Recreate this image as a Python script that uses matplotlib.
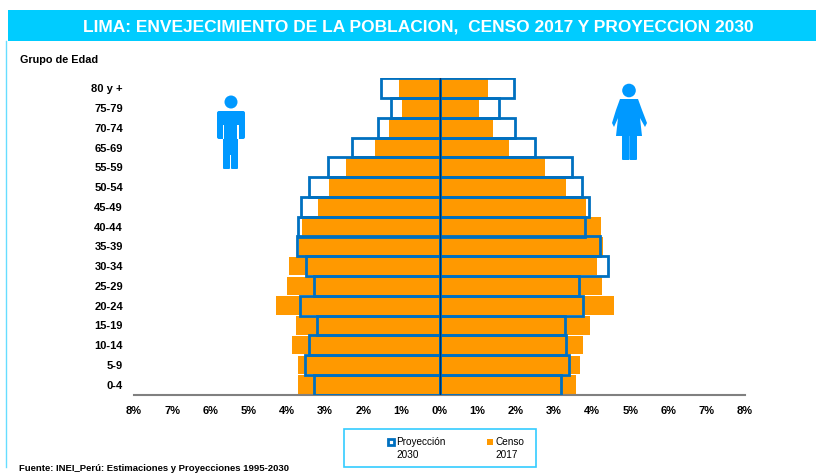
import matplotlib
matplotlib.use('Agg')
import matplotlib.pyplot as plt
from matplotlib.patches import Rectangle, Circle, Polygon, FancyBboxPatch

plt.rcParams['font.family'] = ['Liberation Sans', 'DejaVu Sans']

# data, top row first (the source has no 60-64 row)
grupos = ['80 y +', '75-79', '70-74', '65-69', '55-59', '50-54', '45-49', '40-44',
          '35-39', '30-34', '25-29', '20-24', '15-19', '10-14', '5-9', '0-4']
censo_h = [1.06, 0.97, 1.33, 1.68, 2.46, 2.90, 3.18, 3.59,
           3.68, 3.94, 3.99, 4.27, 3.75, 3.85, 3.70, 3.71]
censo_m = [1.27, 1.03, 1.40, 1.83, 2.76, 3.32, 3.83, 4.24,
           4.27, 4.12, 4.25, 4.58, 3.94, 3.76, 3.67, 3.57]
proy_h = [1.52, 1.27, 1.62, 2.28, 2.92, 3.43, 3.63, 3.70,
          3.72, 3.49, 3.29, 3.66, 3.21, 3.43, 3.52, 3.29]
proy_m = [1.94, 1.56, 1.97, 2.51, 3.46, 3.72, 3.91, 3.80,
          4.21, 4.42, 3.64, 3.77, 3.29, 3.32, 3.39, 3.18]
ticks_pct = [-8, -7, -6, -5, -4, -3, -2, -1, 0, 1, 2, 3, 4, 5, 6, 7, 8]

W, H = 816, 475
NARANJA = '#FF9900'
AZUL = '#0070C0'
CIAN = '#00CCFF'
ICONO = '#0099FF'

fig = plt.figure(figsize=(W / 100, H / 100), dpi=100)

# overlay in pixel coords for the header, boxes and icons
bg = fig.add_axes([0, 0, 1, 1])
bg.set_xlim(0, W)
bg.set_ylim(H, 0)
bg.axis('off')

bg.add_patch(Rectangle((8, 10), W - 8, 31, color=CIAN, lw=0))
bg.plot([6, 6], [41, 467], color='#66DDFF', lw=1)
bg.text(418, 27, 'LIMA: ENVEJECIMIENTO DE LA POBLACION,  CENSO 2017 Y PROYECCION 2030',
        color='white', fontsize=12.5, fontweight='bold', ha='center', va='center')
bg.text(20, 60, 'Grupo de Edad', fontsize=7.8, fontweight='bold', ha='left', va='center')
bg.text(19, 468.5, 'Fuente: INEI_Perú: Estimaciones y Proyecciones 1995-2030',
        fontsize=6.8, fontweight='bold', ha='left', va='center')

# man icon
bg.add_patch(Circle((231, 102), 6.5, color=ICONO, lw=0))
bg.add_patch(FancyBboxPatch((219, 113), 24, 24, boxstyle='round,pad=2', color=ICONO, lw=0))
bg.add_patch(Rectangle((223, 125), 15, 30, color=ICONO, lw=0))
bg.add_patch(FancyBboxPatch((224, 150), 5, 18, boxstyle='round,pad=1', color=ICONO, lw=0))
bg.add_patch(FancyBboxPatch((232, 150), 5, 18, boxstyle='round,pad=1', color=ICONO, lw=0))
bg.add_patch(Rectangle((222.5, 125), 1.4, 14, color='white', lw=0))
bg.add_patch(Rectangle((237.2, 125), 1.4, 14, color='white', lw=0))

# woman icon
bg.add_patch(Circle((629, 90.5), 6.8, color=ICONO, lw=0))
bg.add_patch(Polygon([(620, 99), (638, 99), (642, 110), (647, 123), (645, 127),
                      (640, 118), (642, 136), (616, 136), (618, 118), (614, 127),
                      (612, 123), (616, 110)], color=ICONO, lw=0))
bg.add_patch(FancyBboxPatch((623, 135), 5.5, 24, boxstyle='round,pad=1', color=ICONO, lw=0))
bg.add_patch(FancyBboxPatch((630.5, 135), 5.5, 24, boxstyle='round,pad=1', color=ICONO, lw=0))

# legend box
bg.add_patch(Rectangle((343.5, 429), 192, 38, fill=False, edgecolor='#33CCFF', lw=1.2))
bg.add_patch(Rectangle((388, 439), 6, 6, facecolor='white', edgecolor=AZUL, lw=2))
bg.text(396, 442, 'Proyección', fontsize=7.2, ha='left', va='center')
bg.text(396, 455, '2030', fontsize=7.2, ha='left', va='center')
bg.add_patch(Rectangle((487, 439), 6, 6, color=NARANJA, lw=0))
bg.text(495, 442, 'Censo', fontsize=7.2, ha='left', va='center')
bg.text(495, 455, '2017', fontsize=7.2, ha='left', va='center')

# pyramid
ax = fig.add_axes([134 / W, 1 - 394.5 / H, (745 - 134) / W, (394.5 - 78.5) / H])
ax.patch.set_alpha(0)
y = list(range(len(grupos)))
ax.barh(y, [-v for v in censo_h], height=0.93, color=NARANJA, zorder=2)
ax.barh(y, censo_m, height=0.93, color=NARANJA, zorder=2)
ax.barh(y, [-v for v in proy_h], height=1.0, facecolor='none', edgecolor=AZUL, lw=2.0, zorder=3)
ax.barh(y, proy_m, height=1.0, facecolor='none', edgecolor=AZUL, lw=2.0, zorder=3)
ax.axvline(0, color='#003060', lw=1.0, zorder=4)

ax.set_xlim(-8, 8)
ax.set_ylim(len(grupos) - 0.5, -0.5)
ax.set_yticks(y)
ax.set_yticklabels(grupos, fontsize=8, fontweight='bold')
ax.set_xticks(ticks_pct)
ax.set_xticklabels([f'{abs(t)}%' for t in ticks_pct], fontsize=8, fontweight='bold')
ax.tick_params(axis='both', length=0)
ax.tick_params(axis='x', pad=8)
ax.tick_params(axis='y', pad=8)
for s in ['top', 'left', 'right']:
    ax.spines[s].set_visible(False)
ax.spines['bottom'].set_color('#808080')
ax.spines['bottom'].set_linewidth(1.5)

fig.savefig('out.png', dpi=100)
